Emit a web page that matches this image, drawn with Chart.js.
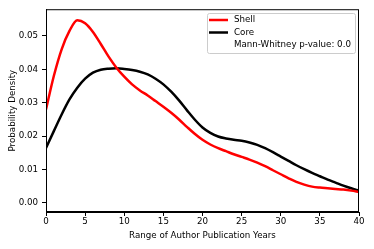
<!DOCTYPE html>
<html>
<head>
<meta charset="utf-8">
<script src="https://cdn.jsdelivr.net/npm/chart.js@4"></script>
<style>
  html, body { margin: 0; padding: 0; background: #fff; }
  #wrap { width: 374px; height: 249px; position: relative; }
</style>
</head>
<body>
<div id="wrap"><canvas id="kde"></canvas></div>
<script>
// Data (x = years, y = density)
const years = [0,1,2,3,4,5,6,7,8,9,10,11,12,13,14,15,16,17,18,19,20,21,22,23,24,25,26,27,28,29,30,31,32,33,34,35,36,37,38,39,40];
const shellDensity = [0.028,0.038,0.046,0.0515,0.0547,0.0538,0.0512,0.0476,0.0438,0.0405,0.0378,0.0355,0.0337,0.0322,0.0305,0.0288,0.027,0.025,0.0228,0.0207,0.0189,0.0175,0.0164,0.0155,0.0146,0.0138,0.013,0.0121,0.011,0.0098,0.0086,0.0074,0.0063,0.0055,0.0049,0.0046,0.0044,0.0042,0.004,0.0037,0.0033];
const coreDensity = [0.0165,0.0215,0.0265,0.031,0.0345,0.0372,0.039,0.0399,0.0402,0.0403,0.0401,0.0398,0.0393,0.0385,0.0372,0.0355,0.0333,0.0307,0.0278,0.025,0.0226,0.021,0.0199,0.0193,0.0189,0.0186,0.0181,0.0174,0.0164,0.0152,0.0139,0.0126,0.0113,0.0101,0.009,0.008,0.007,0.0061,0.0052,0.0044,0.0037];
const yTicks = [0, 0.01, 0.02, 0.03, 0.04, 0.05];
const xTicks = [0, 5, 10, 15, 20, 25, 30, 35, 40];
const legendNote = 'Mann-Whitney p-value: 0.0';

const FONT = 'DejaVu Sans';
const FSIZE = 8.7;
Chart.defaults.font.family = FONT;
Chart.defaults.font.size = FSIZE;
Chart.defaults.color = '#000';

function toPoints(ys) {
    return years.map((x, i) => ({ x: x, y: ys[i] }));
}

// frame + in-plot legend, matplotlib style
const framePlugin = {
    id: 'frame',
    afterDraw(chart) {
        const { ctx, chartArea: a } = chart;
        ctx.save();
        ctx.strokeStyle = '#000';
        ctx.lineWidth = 1;
        ctx.strokeRect(a.left + 0.5, a.top + 0.5, a.right - a.left - 1, a.bottom - a.top - 1);

        // legend box
        const bx = 207, by = 13, bw = 148, bh = 40;
        ctx.fillStyle = 'rgba(255,255,255,0.8)';
        ctx.strokeStyle = '#ccc';
        ctx.beginPath();
        ctx.roundRect(bx + 0.5, by + 0.5, bw, bh, 2);
        ctx.fill();
        ctx.stroke();

        const rows = [
            { label: 'Shell', color: '#ff0000' },
            { label: 'Core', color: '#000000' },
            { label: legendNote, color: null }
        ];
        ctx.font = FSIZE + 'px ' + FONT;
        ctx.textBaseline = 'middle';
        rows.forEach((r, i) => {
            const y = by + 7 + i * 12.5;
            if (r.color) {
                ctx.strokeStyle = r.color;
                ctx.lineWidth = 2.5;
                ctx.beginPath();
                ctx.moveTo(209, y);
                ctx.lineTo(228, y);
                ctx.stroke();
            }
            ctx.fillStyle = '#000';
            ctx.fillText(r.label, 234, y);
        });
        ctx.restore();
    }
};

new Chart(document.getElementById('kde'), {
    type: 'line',
    data: {
        datasets: [
            {
                label: 'Shell',
                data: toPoints(shellDensity),
                borderColor: '#ff0000',
                borderWidth: 2.5,
                pointRadius: 0,
                cubicInterpolationMode: 'monotone',
                fill: false
            },
            {
                label: 'Core',
                data: toPoints(coreDensity),
                borderColor: '#000000',
                borderWidth: 2.5,
                pointRadius: 0,
                cubicInterpolationMode: 'monotone',
                fill: false
            }
        ]
    },
    options: {
        responsive: true,
        maintainAspectRatio: false,
        animation: false,
        layout: { padding: { left: 8, right: 15, top: 9, bottom: 8 } },
        plugins: {
            legend: { display: false },
            tooltip: { enabled: false }
        },
        scales: {
            x: {
                type: 'linear',
                min: 0,
                max: 40,
                afterBuildTicks: (s) => { s.ticks = xTicks.map(v => ({ value: v })); },
                afterFit: (s) => { s.height = 29; },
                grid: { display: true, drawOnChartArea: false, drawTicks: true, tickLength: 4, color: '#000' },
                border: { display: true, color: '#000' },
                ticks: { padding: 1, maxRotation: 0 },
                title: { display: true, text: 'Range of Author Publication Years', padding: { top: 1, bottom: 0 } }
            },
            y: {
                type: 'linear',
                min: -0.0027,
                max: 0.058,
                afterBuildTicks: (s) => { s.ticks = yTicks.map(v => ({ value: v })); },
                afterFit: (s) => { s.width = 38; },
                grid: { display: true, drawOnChartArea: false, drawTicks: true, tickLength: 4, color: '#000' },
                border: { display: true, color: '#000' },
                ticks: { padding: 4, callback: (v) => v.toFixed(2) },
                title: { display: true, text: 'Probability Density', padding: { top: 0, bottom: 2 } }
            }
        }
    },
    plugins: [framePlugin]
});
</script>
</body>
</html>
